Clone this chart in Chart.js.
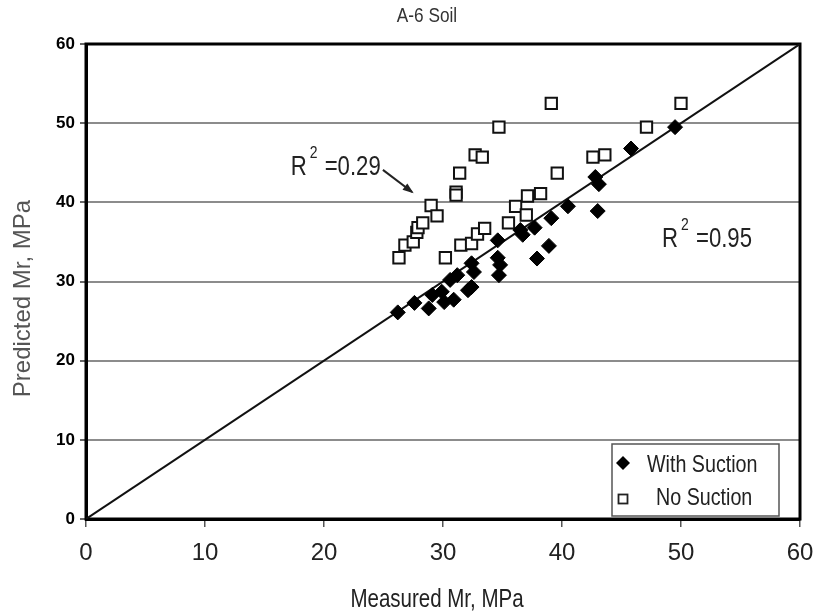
<!DOCTYPE html>
<html>
<head>
<meta charset="utf-8">
<script src="https://cdn.jsdelivr.net/npm/chart.js@4/dist/chart.umd.min.js"></script>
<style>
  html, body { margin: 0; padding: 0; background: #fff; }
  #wrap { width: 814px; height: 615px; }
</style>
</head>
<body>
<div id="wrap"><canvas id="c" width="814" height="615"></canvas></div>
<script>
// ---- Data ----
const chartTitle = "A-6 Soil";
const xAxisTitle = "Measured Mr, MPa";
const yAxisTitle = "Predicted Mr, MPa";

const withSuctionX = [26.2, 27.6, 28.8, 29.1, 29.9, 30.1, 30.9, 30.6, 31.2, 32.1, 32.4, 32.4, 32.6, 34.6, 34.6, 34.8, 34.7, 36.5, 36.7, 37.7, 37.9, 38.9, 39.1, 40.5, 42.8, 43.1, 43.0, 45.8, 49.5];
const withSuctionY = [26.1, 27.3, 26.6, 28.3, 28.7, 27.4, 27.7, 30.2, 30.8, 28.9, 29.3, 32.3, 31.2, 35.2, 33.0, 32.1, 30.8, 36.5, 35.9, 36.8, 32.9, 34.5, 38.0, 39.5, 43.2, 42.3, 38.9, 46.8, 49.5];

const noSuctionX = [26.3, 26.8, 27.5, 27.8, 27.9, 28.3, 29.0, 29.5, 30.2, 31.1, 31.1, 31.4, 31.5, 32.4, 32.9, 33.5, 32.7, 33.3, 34.7, 35.5, 36.1, 37.0, 37.1, 38.2, 39.1, 39.6, 42.6, 43.6, 47.1, 50.0];
const noSuctionY = [33.0, 34.6, 35.0, 36.2, 36.8, 37.4, 39.6, 38.3, 33.0, 41.3, 40.9, 43.7, 34.6, 34.8, 36.0, 36.7, 46.0, 45.7, 49.5, 37.4, 39.5, 38.4, 40.8, 41.1, 52.5, 43.7, 45.7, 46.0, 49.5, 52.5];

const lineX = [0, 60];
const lineY = [0, 60];

const xTickValues = [0, 10, 20, 30, 40, 50, 60];
const xTickLabels = ["0", "10", "20", "30", "40", "50", "60"];
const yTickValues = [0, 10, 20, 30, 40, 50, 60];
const yTickLabels = ["0", "10", "20", "30", "40", "50", "60"];

const seriesNames = ["With Suction", "No Suction"];
const r2Labels = [
  { value: "=0.29", x: 17.2, y: 43.45 },
  { value: "=0.95", x: 48.4, y: 34.35 }
];
const arrowFrom = { x: 24.95, y: 44.1 };
const arrowTo = { x: 27.4, y: 41.3 };

// ---- Helpers ----
const zip = (xs, ys) => xs.map((x, i) => ({ x: x, y: ys[i] }));
const ARIAL = '"Liberation Sans", Arial, sans-serif';
const SQ = 0.82; // horizontal squeeze to mimic a narrow face

function narrowText(ctx, text, x, y, size, align, color) {
  ctx.save();
  ctx.font = size + 'px ' + ARIAL;
  ctx.fillStyle = color;
  ctx.textBaseline = 'alphabetic';
  ctx.textAlign = align;
  ctx.translate(x, y);
  ctx.scale(SQ, 1);
  ctx.fillText(text, 0, 0);
  const w = ctx.measureText(text).width * SQ;
  ctx.restore();
  return w;
}

const overlayPlugin = {
  id: 'overlay',
  beforeDatasetsDraw(chart) {
    const { ctx, chartArea: a } = chart;
    ctx.save();
    ctx.strokeStyle = '#000';
    ctx.lineWidth = 3;
    ctx.strokeRect(a.left, a.top, a.right - a.left, a.bottom - a.top);
    ctx.restore();
  },
  afterDraw(chart) {
    const { ctx, chartArea: a, scales } = chart;
    const xs = scales.x, ys = scales.y;
    ctx.save();
    // Title
    narrowText(ctx, chartTitle, (a.left + a.right) / 2 - 16, a.top - 22, 21, 'center', '#333');

    // X axis title
    narrowText(ctx, xAxisTitle, (a.left + a.right) / 2 - 6, a.bottom + 88, 25, 'center', '#222');

    // Y axis title
    ctx.save();
    ctx.translate(23, (a.top + a.bottom) / 2 + 17);
    ctx.rotate(-Math.PI / 2);
    ctx.fillStyle = '#555';
    ctx.font = '24px ' + ARIAL;
    ctx.textAlign = 'center';
    ctx.textBaseline = 'middle';
    ctx.fillText(yAxisTitle, 0, 0);
    ctx.restore();

    // R^2 labels
    r2Labels.forEach(l => {
      const px = xs.getPixelForValue(l.x);
      const py = ys.getPixelForValue(l.y);
      const rw = narrowText(ctx, 'R', px, py, 27, 'left', '#222');
      narrowText(ctx, '2', px + rw + 3, py - 17, 17, 'left', '#222');
      narrowText(ctx, l.value, px + rw + 18, py, 27, 'left', '#222');
    });

    // Arrow
    const ax1 = xs.getPixelForValue(arrowFrom.x), ay1 = ys.getPixelForValue(arrowFrom.y);
    const ax2 = xs.getPixelForValue(arrowTo.x), ay2 = ys.getPixelForValue(arrowTo.y);
    ctx.strokeStyle = '#222';
    ctx.fillStyle = '#222';
    ctx.lineWidth = 2;
    ctx.beginPath();
    ctx.moveTo(ax1, ay1);
    ctx.lineTo(ax2, ay2);
    ctx.stroke();
    const ang = Math.atan2(ay2 - ay1, ax2 - ax1);
    const hl = 9, hw = 4;
    ctx.beginPath();
    ctx.moveTo(ax2 + 2 * Math.cos(ang), ay2 + 2 * Math.sin(ang));
    ctx.lineTo(ax2 - hl * Math.cos(ang) + hw * Math.sin(ang), ay2 - hl * Math.sin(ang) - hw * Math.cos(ang));
    ctx.lineTo(ax2 - hl * Math.cos(ang) - hw * Math.sin(ang), ay2 - hl * Math.sin(ang) + hw * Math.cos(ang));
    ctx.closePath();
    ctx.fill();

    // Legend box
    const lx = a.right - 188, ly = a.bottom - 75, lw = 167, lh = 72;
    ctx.fillStyle = '#fff';
    ctx.fillRect(lx, ly, lw, lh);
    ctx.strokeStyle = '#555';
    ctx.lineWidth = 1.5;
    ctx.strokeRect(lx, ly, lw, lh);
    // diamond
    const dx = lx + 11, dy = ly + 19;
    ctx.fillStyle = '#000';
    ctx.beginPath();
    ctx.moveTo(dx - 7, dy); ctx.lineTo(dx, dy - 7); ctx.lineTo(dx + 7, dy); ctx.lineTo(dx, dy + 7);
    ctx.closePath(); ctx.fill();
    // square
    const sx = lx + 11, sy = ly + 55;
    ctx.strokeStyle = '#222';
    ctx.lineWidth = 1.8;
    ctx.fillStyle = '#fff';
    ctx.fillRect(sx - 4.5, sy - 4.5, 9, 9);
    ctx.strokeRect(sx - 4.5, sy - 4.5, 9, 9);
    narrowText(ctx, seriesNames[0], lx + 35, ly + 28, 24, 'left', '#222');
    narrowText(ctx, seriesNames[1], lx + 44, ly + 61, 24, 'left', '#222');
    ctx.restore();
  }
};

new Chart(document.getElementById('c'), {
  type: 'scatter',
  data: {
    datasets: [
      {
        label: 'Line of equality',
        type: 'line',
        data: zip(lineX, lineY),
        borderColor: '#111',
        borderWidth: 2,
        pointRadius: 0,
        fill: false,
        order: 3
      },
      {
        label: seriesNames[1],
        data: zip(noSuctionX, noSuctionY),
        pointStyle: 'rect',
        pointRadius: 8,
        pointBackgroundColor: '#fff',
        pointBorderColor: '#111',
        pointBorderWidth: 2,
        order: 2
      },
      {
        label: seriesNames[0],
        data: zip(withSuctionX, withSuctionY),
        pointStyle: 'rectRot',
        pointRadius: 7.5,
        pointBackgroundColor: '#000',
        pointBorderColor: '#000',
        pointBorderWidth: 1,
        order: 1
      }
    ]
  },
  options: {
    responsive: false,
    animation: false,
    events: [],
    layout: { padding: { top: 44, right: 14, left: 0, bottom: 0 } },
    plugins: {
      legend: { display: false },
      tooltip: { enabled: false },
      title: { display: false }
    },
    scales: {
      x: {
        type: 'linear',
        min: 0, max: 60,
        afterFit(s) { s.height = 96; s.paddingLeft = 0; s.paddingRight = 0; },
        afterBuildTicks(s) { s.ticks = xTickValues.map(v => ({ value: v })); },
        ticks: {
          callback: (v, i) => xTickLabels[i],
          font: { family: ARIAL, size: 24 },
          color: '#222',
          padding: 12,
          maxRotation: 0
        },
        grid: { drawOnChartArea: false, drawTicks: true, tickLength: 8, tickColor: '#555', lineWidth: 1.5 },
        border: { display: true, color: '#000', width: 3 }
      },
      y: {
        type: 'linear',
        min: 0, max: 60,
        afterFit(s) { s.width = 86; s.paddingTop = 0; s.paddingBottom = 0; },
        afterBuildTicks(s) { s.ticks = yTickValues.map(v => ({ value: v })); },
        ticks: {
          callback: (v, i) => yTickLabels[i],
          font: { family: ARIAL, size: 17, weight: 'bold' },
          color: '#000',
          padding: 5
        },
        grid: {
          color: ctx => (ctx.tick && (ctx.tick.value === 0 || ctx.tick.value === 60)) ? 'rgba(0,0,0,0)' : '#8c8c8c',
          lineWidth: 2,
          tickLength: 6,
          tickColor: '#666'
        },
        border: { display: true, color: '#000', width: 3 }
      }
    }
  },
  plugins: [overlayPlugin]
});
</script>
</body>
</html>
